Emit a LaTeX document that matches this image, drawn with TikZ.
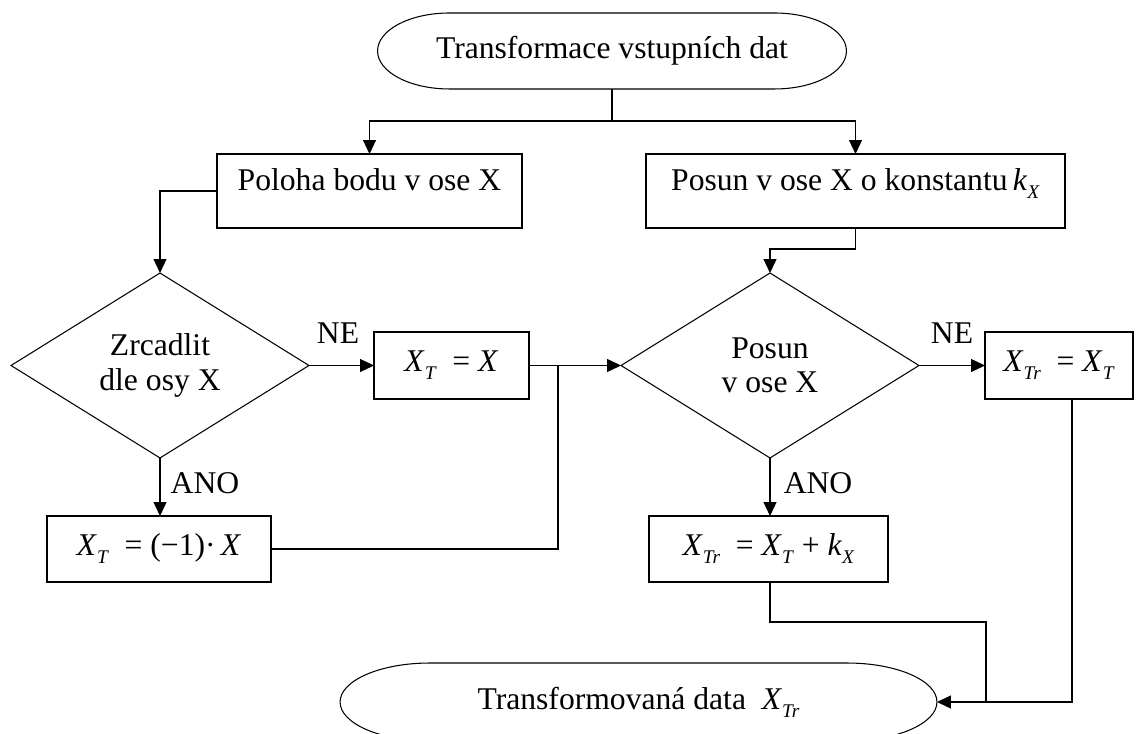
\documentclass[tikz,border=0pt]{standalone}
\usepackage{fontspec}
\setmainfont{Liberation Serif}
\usetikzlibrary{shapes.geometric,arrows.meta}

% italic variable with a lowered subscript
\newcommand{\vsub}[2]{\textit{#1}\raisebox{-0.16cm}{\fontsize{11}{11}\selectfont\textit{#2}}}
% outline of a start/end block: straight top and bottom, half-ellipse ends
\newcommand{\obrys}[3]{\draw[line width=0.6pt] ([xshift=#2]#1.north west) -- ([xshift=-#2]#1.north east)
  arc[start angle=90,end angle=-90,x radius=#2,y radius=#3] -- ([xshift=#2]#1.south west)
  arc[start angle=270,end angle=90,x radius=#2,y radius=#3] -- cycle;}

\begin{document}
\begin{tikzpicture}[x=0.02cm,y=0.02cm,line width=0.7pt,
    every node/.style={font=\fontsize{18}{19.5}\selectfont},
    krajni/.style={rectangle,inner sep=0pt,outer sep=0pt},
    blok/.style={draw,rectangle,inner sep=0pt,outer sep=0pt,text height=0.68em,text depth=0.68em},
    vzorec/.style={draw,rectangle,inner sep=0pt,outer sep=0pt},
    rozhod/.style={draw,diamond,aspect=1.6,line width=0.6pt,inner sep=0pt,outer sep=0pt,align=center,
        minimum width=5.96cm,minimum height=3.7cm},
    sipka/.style={-{Triangle[length=0.28cm,width=0.26cm]}}]
        \useasboundingbox (0,0) rectangle (1148,733);

        % Start
        \node[krajni,minimum width=9.38cm,minimum height=1.52cm] (start) at (612,682) {Transformace vstupních dat};
        \obrys{start}{1.44cm}{0.76cm}

        % Top boxes
        \node[blok,minimum width=6.1cm,minimum height=1.48cm] (poloha) at (369.5,542) {Poloha bodu v ose X};
        \node[blok,minimum width=8.38cm,minimum height=1.48cm] (posun) at (855.5,542) {Posun v ose X o konstantu\,\vsub{k}{X}};

        % Decisions
        \node[rozhod] (zrc) at (160,367.5) {Zrcadlit\\dle osy X};
        \node[rozhod] (pos) at (770,367.5) {Posun\\v ose X};

        % Formula boxes
        \node[vzorec,minimum width=3.1cm,minimum height=1.34cm] (xt) at (451.5,367.5) {\vsub{X}{T}\ \ = \textit{X}};
        \node[vzorec,minimum width=4.48cm,minimum height=1.32cm] (xtm) at (159,184) {\vsub{X}{T}\ \ = (−1)·\,\textit{X}};
        \node[vzorec,minimum width=2.96cm,minimum height=1.34cm] (xtr) at (1059,367.5) {\vsub{X}{Tr}\ \ = \vsub{X}{T}};
        \node[vzorec,minimum width=4.78cm,minimum height=1.32cm] (xtrk) at (768.5,184) {\vsub{X}{Tr}\ \ = \vsub{X}{T}\ + \vsub{k}{X}};

        % End
        \node[krajni,minimum width=11.94cm,minimum height=1.56cm] (konec) at (638.5,31) {Transformovaná data \ \vsub{X}{Tr}};
        \obrys{konec}{1.8cm}{0.78cm}

        % Labels
        \node (ne1) at (338,400) {NE};
        \node (ne2) at (952,400) {NE};
        \node (ano1) at (205,250) {ANO};
        \node (ano2) at (818,250) {ANO};

        % Connectors
        \draw (start.south) -- ++(0,-32) coordinate (rozdel);
        \draw[sipka] (rozdel) -| (poloha.north);
        \draw[sipka] (rozdel) -| (posun.north);
        \draw[sipka] (poloha.west) -| (zrc.north);
        \draw[sipka] (posun.south) -- ++(0,-21) -| (pos.north);
        \draw[sipka] (zrc.east) -- (xt.west);
        \draw[sipka] (zrc.south) -- (zrc.south |- xtm.north);
        \draw[sipka] (xt.east) -- (pos.west);
        \coordinate (spoj1) at (558,367.5);
        \draw (xtm.east) -| (spoj1);
        \draw[sipka] (pos.east) -- (xtr.west);
        \draw[sipka] (pos.south) -- (pos.south |- xtrk.north);
        \draw[sipka] ([xshift=0.26cm]xtr.south) |- (konec.east);
        \coordinate (spoj2) at (986,31);
        \draw ([xshift=0.03cm]xtrk.south) -- ++(0,-40) -| (spoj2);
\end{tikzpicture}
\end{document}
